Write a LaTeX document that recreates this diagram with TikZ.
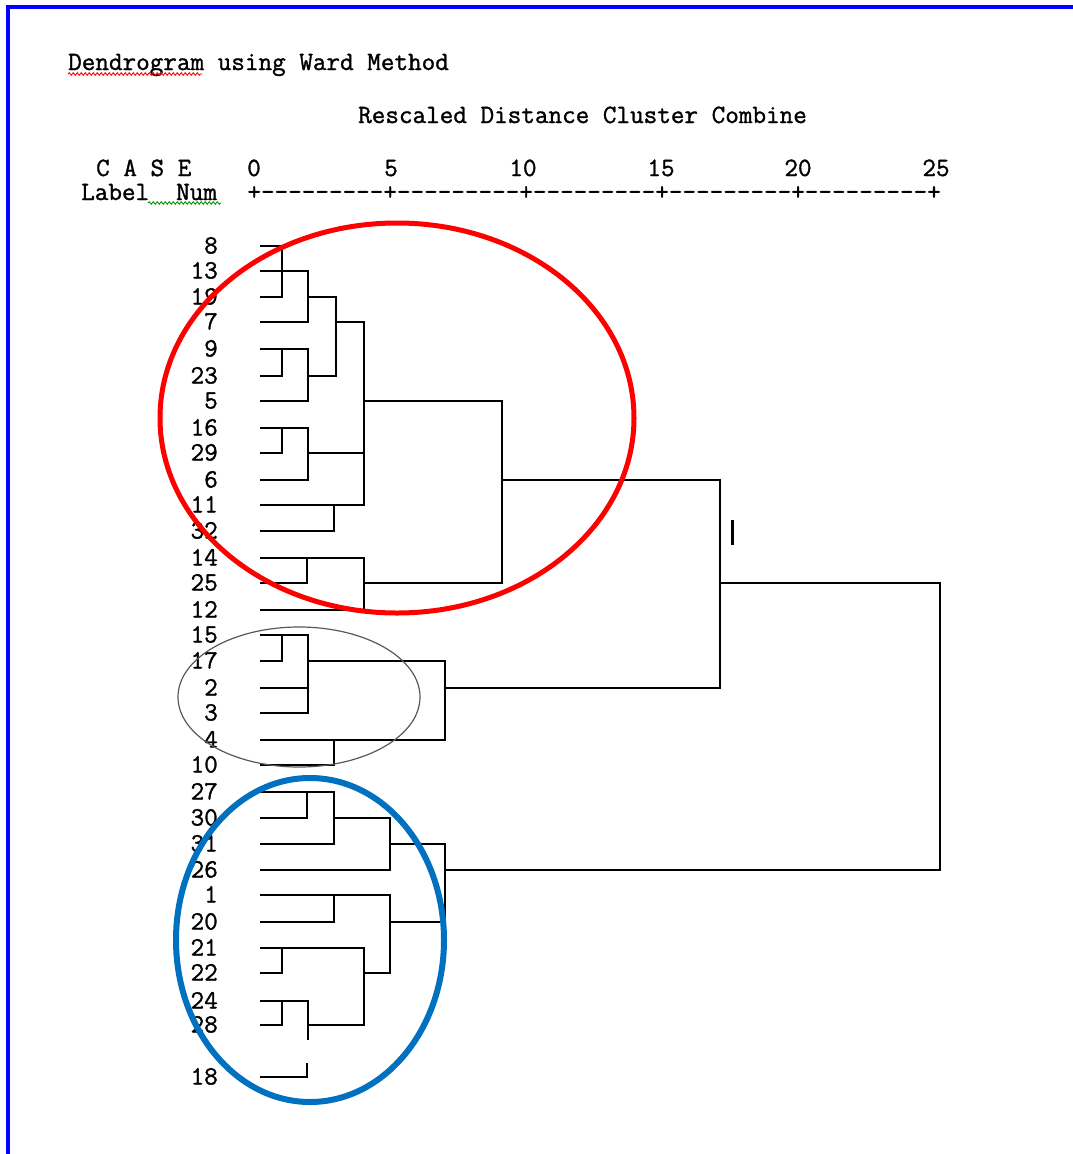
\documentclass[tikz,border=0pt]{standalone}
\usepackage{fontspec}
\newfontfamily\spssfont[FakeBold=1.2]{Latin Modern Mono}
\usetikzlibrary{decorations.pathmorphing}
\definecolor{ovalblue}{RGB}{0,112,192}
\definecolor{frameblue}{RGB}{0,0,255}
\tikzset{
  txt/.style={font=\spssfont\fontsize{26.4}{29}\selectfont,inner sep=0pt,anchor=base west},
  scl/.style={txt,anchor=base},
  num/.style={txt,anchor=base east},
  tree/.style={line width=1.6pt},
  squig/.style={line width=0.9pt,decorate,decoration={snake,amplitude=1.3pt,segment length=4pt}}
}
\begin{document}
\begin{tikzpicture}[x=1pt,y=-1pt]
\useasboundingbox (0,0) rectangle (1073,1154);
\fill[white] (0,0) rectangle (1073,1154);
\draw[frameblue,line width=4pt] (8,1154) -- (8,7) -- (1073,7);

\node[txt] (title) at (68,70) {Dendrogram using Ward Method};
\draw[squig,red] (68,74) -- (202,74);
\node[txt] (rescaled) at (358,123) {Rescaled Distance Cluster Combine};
\node[txt] (case) at (96,176) {C A S E};
\node[scl] (s0) at (254,176) {0};
\node[scl] (s5) at (391,176) {5};
\node[scl] (s10) at (523,176) {10};
\node[scl] (s15) at (661,176) {15};
\node[scl] (s20) at (798,176) {20};
\node[scl] (s25) at (936,176) {25};
\node[txt] (label) at (81,200) {Label};
\node[txt] (numhead) at (176,200) {Num};
\draw[squig,green!60!black] (148,203) -- (221,203);
\node[txt] (axis) at (247.2,200) {+---------+---------+---------+---------+---------+};

\node[num] (l8) at (218,253.5) {8};
\node[num] (l13) at (218,278.5) {13};
\node[num] (l19) at (218,304.5) {19};
\node[num] (l7) at (218,329.5) {7};
\node[num] (l9) at (218,356.5) {9};
\node[num] (l23) at (218,383.5) {23};
\node[num] (l5) at (218,408.5) {5};
\node[num] (l16) at (218,435.5) {16};
\node[num] (l29) at (218,460.5) {29};
\node[num] (l6) at (218,487.5) {6};
\node[num] (l11) at (218,512.5) {11};
\node[num] (l32) at (218,538.5) {32};
\node[num] (l14) at (218,565.5) {14};
\node[num] (l25) at (218,590.5) {25};
\node[num] (l12) at (218,617.5) {12};
\node[num] (l15) at (218,642.5) {15};
\node[num] (l17) at (218,668.5) {17};
\node[num] (l2) at (218,695.5) {2};
\node[num] (l3) at (218,720.5) {3};
\node[num] (l4) at (218,747.5) {4};
\node[num] (l10) at (218,772.5) {10};
\node[num] (l27) at (218,799.5) {27};
\node[num] (l30) at (218,825.5) {30};
\node[num] (l31) at (218,851.5) {31};
\node[num] (l26) at (218,877.5) {26};
\node[num] (l1) at (218,902.5) {1};
\node[num] (l20) at (218,929.5) {20};
\node[num] (l21) at (218,955.5) {21};
\node[num] (l22) at (218,980.5) {22};
\node[num] (l24) at (218,1008.5) {24};
\node[num] (l28) at (218,1032.5) {28};
\node[num] (l18) at (218,1084.5) {18};

\draw[tree] (260,246) -- (282,246) -- (282,297) -- (260,297);
\draw[tree] (260,271) -- (308,271) -- (308,322) -- (260,322);
\draw[tree] (308,297) -- (336,297) -- (336,376) -- (308,376);
\draw[tree] (260,349) -- (308,349) -- (308,401) -- (260,401);
\draw[tree] (260,376) -- (282,376) -- (282,349);
\draw[tree] (336,322) -- (364,322) -- (364,505) -- (260,505);
\draw[tree] (260,428) -- (308,428) -- (308,480) -- (260,480);
\draw[tree] (260,453) -- (282,453) -- (282,428);
\draw[tree] (308,453) -- (364,453);
\draw[tree] (260,531) -- (334,531) -- (334,505);
\draw[tree] (364,401) -- (502,401) -- (502,583) -- (364,583);
\draw[tree] (260,558) -- (364,558) -- (364,610) -- (260,610);
\draw[tree] (260,583) -- (307,583) -- (307,558);
\draw[tree] (502,480) -- (720,480) -- (720,688) -- (445,688);

\draw[tree] (260,635) -- (308,635) -- (308,713) -- (260,713);
\draw[tree] (260,661) -- (282,661) -- (282,635);
\draw[tree] (260,688) -- (308,688);
\draw[tree] (308,661) -- (445,661) -- (445,740) -- (260,740);
\draw[tree] (260,765) -- (334,765) -- (334,740);

\draw[tree] (260,792) -- (334,792) -- (334,844) -- (260,844);
\draw[tree] (260,818) -- (307,818) -- (307,792);
\draw[tree] (334,818) -- (390,818) -- (390,870) -- (260,870);
\draw[tree] (390,844) -- (445,844) -- (445,922) -- (390,922);
\draw[tree] (260,895) -- (390,895) -- (390,973) -- (364,973);
\draw[tree] (260,922) -- (334,922) -- (334,895);
\draw[tree] (260,948) -- (364,948) -- (364,1025) -- (308,1025);
\draw[tree] (260,973) -- (282,973) -- (282,948);
\draw[tree] (260,1001) -- (308,1001) -- (308,1040);
\draw[tree] (260,1025) -- (282,1025) -- (282,1001);
\draw[tree] (260,1077) -- (307,1077) -- (307,1063);

\draw[tree] (720,583) -- (940,583) -- (940,870) -- (445,870);
\draw[line width=3pt] (732,520) -- (732,545);

\draw[red,line width=5pt] (397,418) ellipse [x radius=237pt,y radius=195pt];
\draw[black!65,line width=1.2pt] (299,697) ellipse [x radius=121pt,y radius=70pt];
\draw[ovalblue,line width=6pt] (310,940) ellipse [x radius=134pt,y radius=162pt];
\end{tikzpicture}
\end{document}
